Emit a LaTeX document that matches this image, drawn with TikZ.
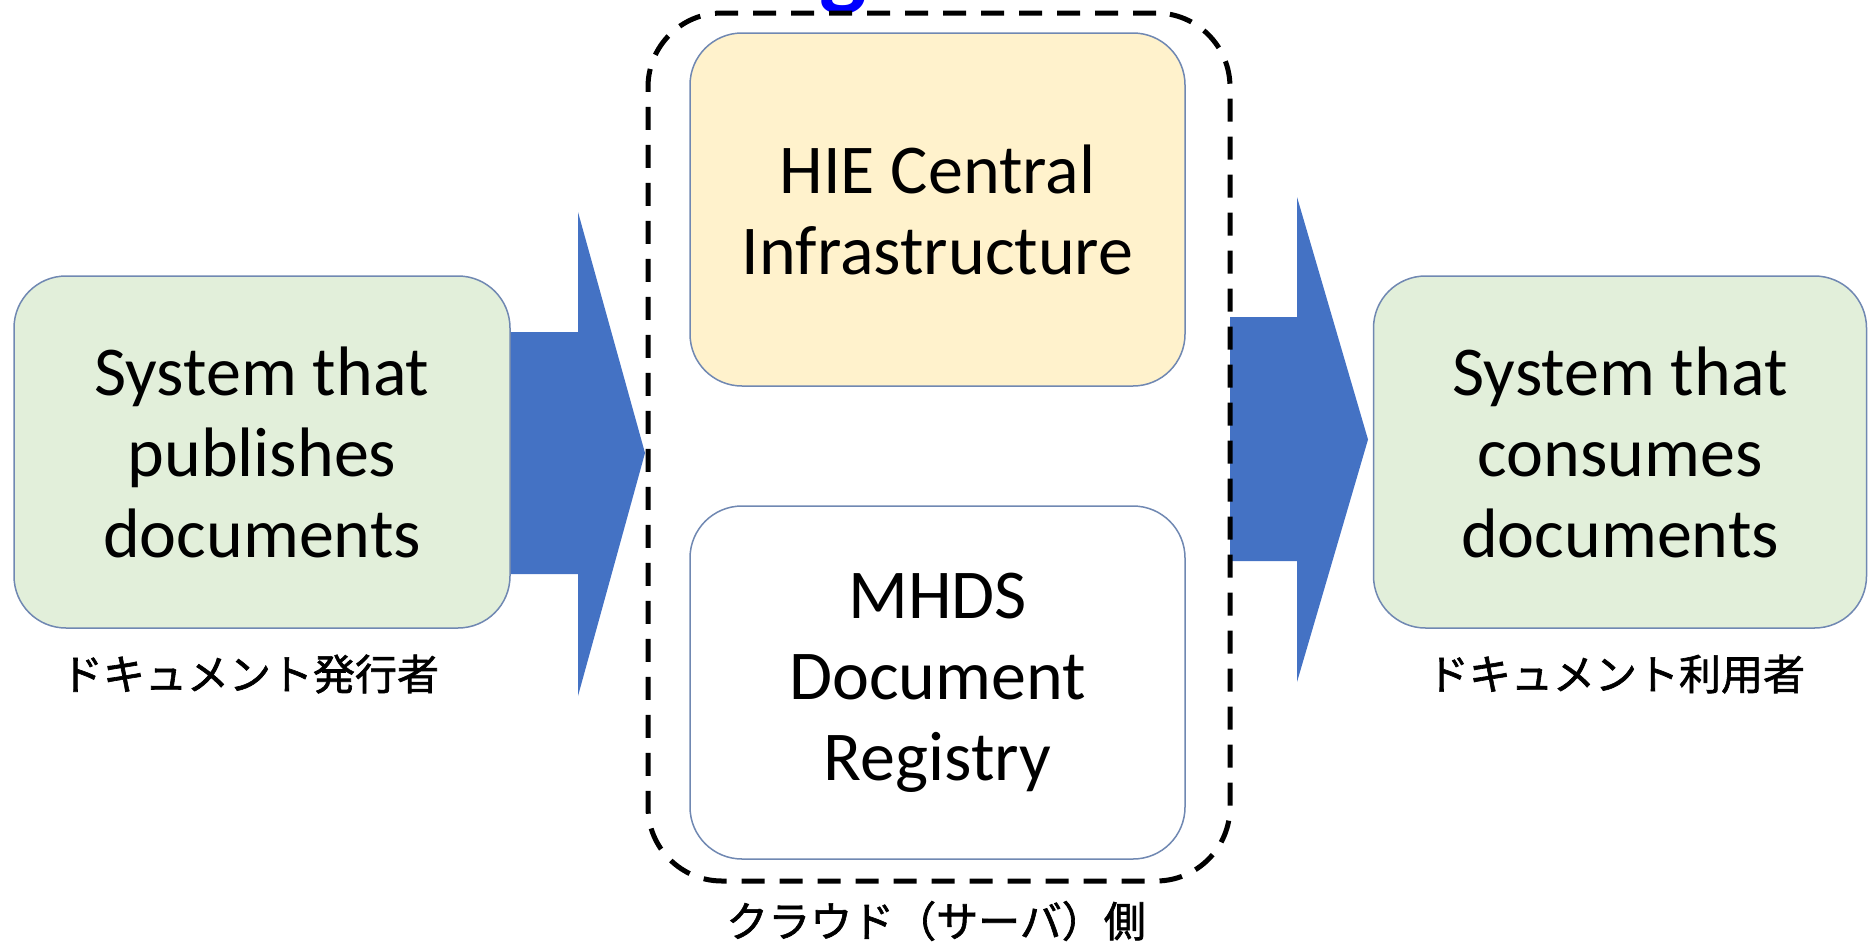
\documentclass[tikz,border=0pt]{standalone}
\usepackage{fontspec}
\setmainfont{Carlito}
\newfontfamily\jpfont[FakeBold=1.5]{Noto Sans CJK JP}
\usetikzlibrary{positioning}

\definecolor{boxline}{RGB}{112,136,178}
\definecolor{sysgreen}{RGB}{226,239,218}
\definecolor{hieyellow}{RGB}{255,242,204}
\definecolor{flowblue}{RGB}{68,114,196}
\definecolor{titleblue}{RGB}{0,0,255}

\begin{document}
\begin{tikzpicture}[x=1pt,y=1pt,yscale=-1,xscale=1,
	sysbox/.style={draw=boxline, line width=1.5pt, rounded corners=52pt, inner sep=0pt, align=center, font=\fontsize{70}{81}\selectfont},
	cloudbox/.style={draw, line width=5pt, dash pattern=on 23pt off 15pt, rounded corners=74pt, inner sep=0pt},
	jplabel/.style={inner sep=0pt, font=\jpfont\fontsize{42}{42}\selectfont}]
		\useasboundingbox (0,0) rectangle (1870,945);

		% Text Node (cut off at the top edge)
		\node [anchor=base, text=titleblue, font=\bfseries\fontsize{100}{100}\selectfont] (topg) at (843,-3) {g};

		%Shape: Right Arrow (publisher -> cloud)
		\fill [flowblue] (500,332) -- (578,332) -- (578,212) -- (645,453) -- (578,696) -- (578,574) -- (500,574) -- cycle ;

		%Shape: Right Arrow (cloud -> consumer)
		\fill [flowblue] (1230,317) -- (1297,317) -- (1297,197) -- (1368,439.5) -- (1297,682) -- (1297,561) -- (1230,561) -- cycle ;

		%Shape: Rounded Rect
		\node [sysbox, fill=sysgreen, minimum width=496pt, minimum height=352pt] (pub) at (262,452) {System that\\publishes\\documents};

		%Shape: Rounded Rect
		\node [sysbox, fill=sysgreen, minimum width=493pt, minimum height=352pt] (con) at (1620,452) {System that\\consumes\\documents};

		%Shape: Rounded Rect
		\node [sysbox, fill=hieyellow, minimum width=495pt, minimum height=353pt] (hie) at (937.5,209.5) {HIE Central\\Infrastructure};

		%Shape: Rounded Rect
		\node [sysbox, fill=white, minimum width=495pt, minimum height=353pt] (mhds) at (937.5,682.5) {MHDS\\Document\\Registry};

		%Shape: Rounded Rect, dashed
		\node [cloudbox, minimum width=582pt, minimum height=868pt] (cloud) at (939,447) {};

		% Text Node
		\node [jplabel] (publbl) at (250,674) {ドキュメント発行者};
		% Text Node
		\node [jplabel] (conlbl) at (1616,674) {ドキュメント利用者};
		% Text Node
		\node [jplabel] (cloudlbl) at (936,921) {クラウド（サーバ）側};

	\end{tikzpicture}
\end{document}
